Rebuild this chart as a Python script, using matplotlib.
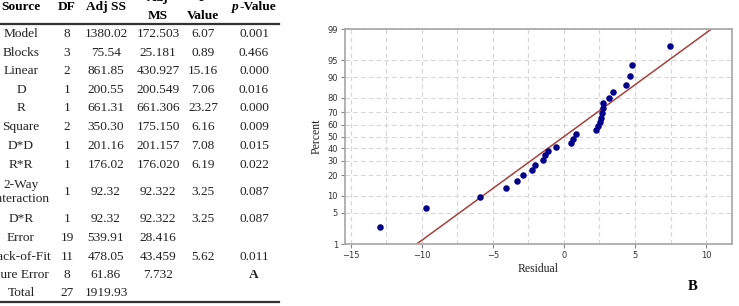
#!/usr/bin/env python3
"""
ANOVA table (left) and normal probability plot of residuals (right)
"""

import numpy as np
import matplotlib
matplotlib.use("Agg")
import matplotlib.pyplot as plt
from statistics import NormalDist

# ANOVA table values
sources = ["Model", "Blocks", "Linear", "D", "R", "Square", "D*D", "R*R",
           "2-Way\nInteraction", "D*R", "Error", "Lack-of-Fit", "Pure Error", "Total"]
dfs = ["8", "3", "2", "1", "1", "2", "1", "1", "1", "1", "19", "11", "8", "27"]
adj_ss = ["1380.02", "75.54", "861.85", "200.55", "661.31", "350.30", "201.16",
          "176.02", "92.32", "92.32", "539.91", "478.05", "61.86", "1919.93"]
adj_ms = ["172.503", "25.181", "430.927", "200.549", "661.306", "175.150", "201.157",
          "176.020", "92.322", "92.322", "28.416", "43.459", "7.732", ""]
f_vals = ["6.07", "0.89", "15.16", "7.06", "23.27", "6.16", "7.08",
          "6.19", "3.25", "3.25", "", "5.62", "", ""]
p_vals = ["0.001", "0.466", "0.000", "0.016", "0.000", "0.009", "0.015",
          "0.022", "0.087", "0.087", "", "0.011", "A", ""]

# Residuals (sorted)
residuals = [-12.96, -9.72, -5.92, -4.08, -3.33, -2.89, -2.23, -2.07, -1.46, -1.34,
             -1.10, -0.56, 0.49, 0.66, 0.82, 2.23, 2.37, 2.51, 2.63, 2.70,
             2.72, 2.75, 3.19, 3.47, 4.37, 4.65, 4.81, 7.44]
pct_ticks = [1, 5, 10, 20, 30, 40, 50, 60, 70, 80, 90, 95, 99]

W, H = 739, 306
fig = plt.figure(figsize=(W / 100, H / 100), dpi=100)


def fx(px):
    return px / W


def fy(py):
    return 1 - py / H


serif = "Liberation Serif"
fs = 9.6

# ---- table ----
col_x = [21, 67, 106, 158, 203, 254]
row_y = [34, 53, 71, 90, 108, 127, 146, 165, 192, 219, 238, 257, 275, 293]

# headers
hdr = dict(ha="center", va="center", fontsize=fs, fontweight="bold", family=serif)
fig.text(fx(col_x[0]), fy(7), "Source", **hdr)
fig.text(fx(col_x[1]), fy(7), "DF", **hdr)
fig.text(fx(col_x[2]), fy(7), "Adj SS", **hdr)
fig.text(fx(col_x[3]), fy(-2), "Adj", **hdr)
fig.text(fx(col_x[3]), fy(16), "MS", **hdr)
fig.text(fx(col_x[4]), fy(-2), "F", **hdr)
fig.text(fx(col_x[4]), fy(16), "Value", **hdr)
fig.text(fx(col_x[5] - 15), fy(7), "p", ha="right", va="center", fontsize=fs,
         fontweight="bold", style="italic", family=serif)
fig.text(fx(col_x[5] - 15), fy(7), "-Value", ha="left", va="center", fontsize=fs,
         fontweight="bold", family=serif)

fig.add_artist(plt.Line2D([0, fx(279)], [fy(24), fy(24)], color="#333333", lw=1.6))
fig.add_artist(plt.Line2D([0, fx(279)], [fy(302), fy(302)], color="#333333", lw=1.6))

columns = [sources, dfs, adj_ss, adj_ms, f_vals, p_vals]
for ci, col in enumerate(columns):
    for ri, val in enumerate(col):
        if val == "":
            continue
        bold = val == "A"
        fig.text(fx(col_x[ci]), fy(row_y[ri]), val, ha="center", va="center",
                 fontsize=fs, family=serif, color="#222222",
                 fontweight="bold" if bold else "normal", linespacing=1.2)

# ---- normal probability plot ----
nd = NormalDist()
n = len(residuals)
x = np.sort(np.array(residuals))
ranks = np.arange(1, n + 1)
probs = (ranks - 0.3) / (n + 0.4)
z = np.array([nd.inv_cdf(p) for p in probs])

ax = fig.add_axes([fx(345), fy(244), (732 - 345) / W, (244 - 29) / H])

mu = x.mean()
sd = x.std(ddof=1)
zlo, zhi = nd.inv_cdf(0.01), nd.inv_cdf(0.99)
zl = np.array([zlo, zhi])
ax.plot(mu + sd * zl, zl, color="#a8413a", lw=1.1, zorder=2)
ax.scatter(x, z, s=22, color="#00008b", zorder=3, linewidths=0)

ax.set_ylim(zlo, zhi)
ax.set_xlim(-15.42, 11.83)
ax.set_yticks([nd.inv_cdf(p / 100) for p in pct_ticks])
ax.set_yticklabels([str(p) for p in pct_ticks])
ax.set_xticks([-15, -10, -5, 0, 5, 10])
ax.set_xticks(np.arange(-15, 12, 2.5), minor=True)

ax.grid(True, which="both", color="#d6d6d6", linestyle=(0, (4, 3)), lw=0.8)
ax.set_axisbelow(True)
ax.tick_params(which="major", length=3, width=0.8, color="#888888",
               labelsize=6, labelcolor="#333333", pad=2)
ax.tick_params(which="minor", length=0)
for s in ax.spines.values():
    s.set_color("#a6a6a6")
    s.set_linewidth(1.2)

ax.set_xlabel("Residual", family=serif, fontsize=8.5, color="#222222")
ax.set_ylabel("Percent", family=serif, fontsize=8.5, color="#222222")
ax.xaxis.set_label_coords((538 - 345) / 387, -0.09)
ax.yaxis.set_label_coords(-0.058, 0.5)

fig.text(fx(693), fy(286), "B", ha="center", va="center", fontsize=10.5,
         fontweight="bold", family=serif)

fig.savefig("out.png", dpi=100)
